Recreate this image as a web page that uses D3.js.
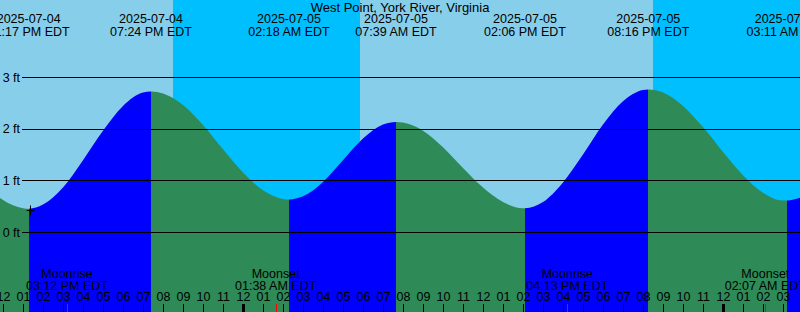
<!DOCTYPE html>
<html>
<head>
<meta charset="utf-8">
<script src="https://cdn.jsdelivr.net/npm/d3@7"></script>
<style>
	body { margin: 0; background: #fff; }
	#vizHolder { width: 800px; height: 312px; }
	text { font-family: "Liberation Sans", Arial, sans-serif; font-size: 12.5px; fill: #000; }
</style>
</head>
<body>
<div id="vizHolder"></div>
<script>
var	vizHolder = document.querySelector('#vizHolder'),
		parseTime = d3.timeParse('%Y-%m-%dT%H:%M'),
		height = 312,
		width = 800;

var title = 'West Point, York River, Virginia';

// chart window
var windowStart = '2025-07-04T11:51',
		windowEnd = '2025-07-06T03:51';

// tide extremes (labels at top)
var tideTimes = ['2025-07-04T13:17', '2025-07-04T19:24', '2025-07-05T02:18', '2025-07-05T07:39', '2025-07-05T14:06', '2025-07-05T20:16', '2025-07-06T03:11'];
var tideLevels = [0.45, 2.72, 0.63, 2.13, 0.46, 2.76, 0.61];
var tideKinds = ['low', 'high', 'low', 'high', 'low', 'high', 'low'];
var tideLabels = ['01:17 PM EDT', '07:24 PM EDT', '02:18 AM EDT', '07:39 AM EDT', '02:06 PM EDT', '08:16 PM EDT', '03:11 AM EDT'];

// water level every hour, starting 2025-07-04 11:00
var hourlyStart = '2025-07-04T11:00';
var hourlyLevels = [0.96, 0.62, 0.46, 0.53, 0.86, 1.39, 1.96, 2.44, 2.70, 2.68,
	2.46, 2.07, 1.60, 1.15, 0.81, 0.64, 0.69, 0.97, 1.39, 1.81,
	2.08, 2.12, 1.96, 1.64, 1.24, 0.86, 0.58, 0.46, 0.58, 0.96,
	1.50, 2.08, 2.53, 2.75, 2.70, 2.44, 2.03, 1.55, 1.10, 0.76,
	0.61, 0.68];

// sun
var sunTimes = ['2025-07-04T20:29', '2025-07-05T05:51', '2025-07-05T20:29'];
var sunKinds = ['set', 'rise', 'set'];

// moon
var moonTimes = ['2025-07-04T15:12', '2025-07-05T01:38', '2025-07-05T16:13', '2025-07-06T02:07'];
var moonKinds = ['Moonrise', 'Moonset', 'Moonrise', 'Moonset'];
var moonLabels = ['03:12 PM EDT', '01:38 AM EDT', '04:13 PM EDT', '02:07 AM EDT'];

// y ticks
var levelTicks = [0, 1, 2, 3];

// marker
var markTime = '2025-07-04T13:21',
		markLevel = 0.43;

var colors = {
	day: '#87CEEB',
	night: '#00BFFF',
	rising: '#0000FF',
	falling: '#2E8B57'
};

drawViz();

function drawViz() {
	d3.select(vizHolder).selectAll('*').remove();

	var t0 = parseTime(windowStart),
			t1 = parseTime(windowEnd);

	var xScale = d3.scaleTime()
		.domain([t0, t1])
		.range([0, width]);

	var yScale = d3.scaleLinear()
		.domain([0, 3])
		.range([232, 77]);

	var svg = d3.select(vizHolder)
				.append('svg')
				.attr('height', height)
				.attr('width', width);

	var defs = svg.append('defs');

	//Sky: day / night
	svg.append('rect')
		.attr('x', 0).attr('y', 0)
		.attr('width', width).attr('height', height)
		.attr('fill', colors.day);

	var nights = [];
	var nightStart = null;
	sunTimes.forEach(function(s, i) {
		if (sunKinds[i] == 'set') nightStart = parseTime(s);
		else {
			nights.push([nightStart || t0, parseTime(s)]);
			nightStart = null;
		}
	});
	if (nightStart) nights.push([nightStart, t1]);

	svg.selectAll('.night')
		.data(nights)
		.enter()
		.append('rect')
		.attr('class', 'night')
		.attr('x', function(d) { return Math.round(xScale(d[0])); })
		.attr('y', 0)
		.attr('width', function(d) { return Math.round(xScale(d[1])) - Math.round(xScale(d[0])); })
		.attr('height', height)
		.attr('fill', colors.night);

	//Water level points
	var points = hourlyLevels.map(function(v, i) {
		return { time: d3.timeHour.offset(parseTime(hourlyStart), i), level: v };
	});
	tideTimes.forEach(function(s, i) {
		points.push({ time: parseTime(s), level: tideLevels[i] });
	});
	points.sort(function(a, b) { return a.time - b.time; });

	var area = d3.area()
		.curve(d3.curveMonotoneX)
		.x(function(d) { return xScale(d.time); })
		.y0(height)
		.y1(function(d) { return yScale(d.level); });

	//Segments between extremes: rising = blue, falling = green
	var bounds = [t0].concat(tideTimes.map(parseTime)).concat([t1]);
	var segs = [];
	for (var i = 0; i < bounds.length - 1; i++) {
		var kind = i < tideKinds.length ? (tideKinds[i] == 'high' ? 'rising' : 'falling') : (tideKinds[tideKinds.length - 1] == 'low' ? 'rising' : 'falling');
		segs.push({ from: bounds[i], to: bounds[i + 1], kind: kind, id: 'seg' + i });
	}

	defs.selectAll('clipPath')
		.data(segs)
		.enter()
		.append('clipPath')
		.attr('id', function(d) { return d.id; })
		.append('rect')
		.attr('x', function(d) { return Math.round(xScale(d.from)); })
		.attr('y', 0)
		.attr('width', function(d) { return Math.round(xScale(d.to)) - Math.round(xScale(d.from)); })
		.attr('height', height);

	svg.selectAll('.tide')
		.data(segs)
		.enter()
		.append('path')
		.attr('class', 'tide')
		.attr('clip-path', function(d) { return 'url(#' + d.id + ')'; })
		.attr('d', area(points))
		.attr('fill', function(d) { return colors[d.kind]; });

	//Level lines
	var grid = svg.append('g');
	grid.selectAll('line')
		.data(levelTicks)
		.enter()
		.append('line')
		.attr('x1', 22)
		.attr('x2', width)
		.attr('y1', function(d) { return Math.round(yScale(d)) + 0.5; })
		.attr('y2', function(d) { return Math.round(yScale(d)) + 0.5; })
		.attr('stroke', '#000')
		.attr('stroke-width', 1);

	grid.selectAll('text')
		.data(levelTicks)
		.enter()
		.append('text')
		.attr('x', 20)
		.attr('y', function(d) { return yScale(d) + 4.5; })
		.attr('text-anchor', 'end')
		.text(function(d) { return d + ' ft'; });

	//Title
	svg.append('text')
		.attr('x', width / 2)
		.attr('y', 11.5)
		.attr('text-anchor', 'middle')
		.style('font-size', '13px')
		.text(title);

	//Tide event labels
	var fmtDate = d3.timeFormat('%Y-%m-%d');
	var top = svg.selectAll('.evt')
		.data(tideTimes)
		.enter()
		.append('g')
		.attr('class', 'evt')
		.attr('transform', function(d) { return 'translate(' + xScale(parseTime(d)) + ',0)'; });
	top.append('text')
		.attr('y', 23)
		.attr('text-anchor', 'middle')
		.text(function(d) { return fmtDate(parseTime(d)); });
	top.append('text')
		.attr('y', 36)
		.attr('text-anchor', 'middle')
		.text(function(d, i) { return tideLabels[i]; });

	//Moon labels
	var moon = svg.selectAll('.moon')
		.data(moonTimes)
		.enter()
		.append('g')
		.attr('class', 'moon')
		.attr('transform', function(d) { return 'translate(' + xScale(parseTime(d)) + ',0)'; });
	moon.append('text')
		.attr('y', 278)
		.attr('text-anchor', 'middle')
		.text(function(d, i) { return moonKinds[i]; });
	moon.append('text')
		.attr('y', 290)
		.attr('text-anchor', 'middle')
		.text(function(d, i) { return moonLabels[i]; });

	//Hour axis along the bottom
	var axis = svg.append('g')
		.attr('transform', 'translate(0,' + height + ')')
		.call(d3.axisTop(xScale)
			.ticks(d3.timeHour.every(1))
			.tickFormat(d3.timeFormat('%I'))
			.tickSize(8)
			.tickPadding(3));
	axis.select('.domain').remove();
	axis.selectAll('text')
		.style('font-family', '"Liberation Sans", Arial, sans-serif')
		.style('font-size', '12.5px')
		.attr('fill', '#000');
	axis.selectAll('.tick line')
		.attr('stroke', '#000')
		.attr('stroke-width', function(d) { return d.getHours() == 0 ? 3 : 1; });

	//Moon ticks
	svg.selectAll('.moontick')
		.data(moonTimes)
		.enter()
		.append('line')
		.attr('class', 'moontick')
		.attr('x1', function(d) { return Math.round(xScale(parseTime(d))) + 0.5; })
		.attr('x2', function(d) { return Math.round(xScale(parseTime(d))) + 0.5; })
		.attr('y1', height - 8)
		.attr('y2', height)
		.attr('stroke', '#FF0000');

	//Marker
	var mx = Math.round(xScale(parseTime(markTime))) + 0.5,
			my = Math.round(yScale(markLevel)) + 0.5;
	svg.append('path')
		.attr('d', 'M' + (mx - 4) + ',' + my + 'H' + (mx + 4) + 'M' + mx + ',' + (my - 5) + 'V' + (my + 5))
		.attr('stroke', '#000')
		.attr('stroke-width', 1);
}
</script>
</body>
</html>
